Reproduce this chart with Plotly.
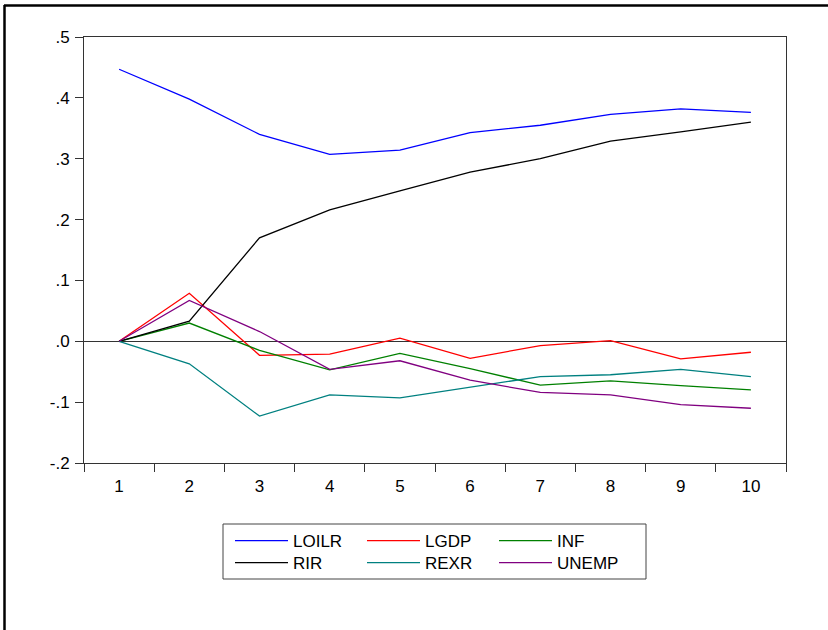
import plotly.graph_objects as go

periods = ["1", "2", "3", "4", "5", "6", "7", "8", "9", "10"]

loilr = [0.447, 0.398, 0.340, 0.307, 0.314, 0.343, 0.355, 0.373, 0.382, 0.376]
rir = [0.000, 0.033, 0.170, 0.216, 0.247, 0.278, 0.300, 0.329, 0.344, 0.360]
lgdp = [0.000, 0.079, -0.023, -0.021, 0.005, -0.028, -0.007, 0.001, -0.029, -0.018]
inf = [0.000, 0.030, -0.015, -0.047, -0.020, -0.045, -0.072, -0.065, -0.073, -0.080]
rexr = [0.000, -0.037, -0.123, -0.088, -0.093, -0.076, -0.058, -0.055, -0.046, -0.058]
unemp = [0.000, 0.067, 0.016, -0.046, -0.032, -0.064, -0.084, -0.088, -0.104, -0.110]

ytick_vals = [0.5, 0.4, 0.3, 0.2, 0.1, 0.0, -0.1, -0.2]
ytick_text = [".5", ".4", ".3", ".2", ".1", ".0", "-.1", "-.2"]

series = [
    ("LOILR", loilr, "#0000FF", "legend"),
    ("LGDP", lgdp, "#FF0000", "legend"),
    ("INF", inf, "#008000", "legend"),
    ("RIR", rir, "#000000", "legend2"),
    ("REXR", rexr, "#008080", "legend2"),
    ("UNEMP", unemp, "#800080", "legend2"),
]

FONT = "Liberation Sans, Arial, sans-serif"

fig = go.Figure()
for name, vals, color, leg in series:
    fig.add_trace(go.Scatter(
        x=periods, y=vals, mode="lines", name=name,
        line=dict(color=color, width=1.3),
        legend=leg, showlegend=True,
    ))

W, H = 828, 630
L, R, T, B = 84, 42, 37, 167
pw, ph = W - L - R, H - T - B

def px(x):
    return (x - L) / pw

def py(y):
    return (H - B - y) / ph

legend_common = dict(
    orientation="h", xanchor="left", yanchor="middle",
    entrywidth=64, entrywidthmode="pixels", itemwidth=53,
    font=dict(family=FONT, size=17, color="#000000"),
    bgcolor="rgba(0,0,0,0)", borderwidth=0, tracegroupgap=0,
    itemclick=False, itemdoubleclick=False,
)

fig.update_layout(
    width=W, height=H,
    margin=dict(l=L, r=R, t=T, b=B, autoexpand=False),
    paper_bgcolor="#FFFFFF", plot_bgcolor="#FFFFFF",
    font=dict(family=FONT, size=17, color="#000000"),
    legend=dict(x=px(230), y=py(541), **legend_common),
    legend2=dict(x=px(230), y=py(563), **legend_common),
    xaxis=dict(
        type="category", range=[-0.5, 9.5],
        tickson="boundaries", ticks="outside", ticklen=8, tickcolor="#333333",
        showline=True, linecolor="#333333", linewidth=1, mirror=True,
        showgrid=False, zeroline=False,
        tickfont=dict(family=FONT, size=17, color="#000000"),
        ticklabelstandoff=8,
    ),
    yaxis=dict(
        range=[-0.2, 0.5], tickvals=ytick_vals, ticktext=ytick_text,
        ticks="outside", ticklen=8, tickcolor="#333333",
        showline=True, linecolor="#333333", linewidth=1, mirror=True,
        showgrid=False,
        zeroline=True, zerolinecolor="#333333", zerolinewidth=1,
        tickfont=dict(family=FONT, size=17, color="#000000"),
        ticklabelstandoff=2,
    ),
    shapes=[
        dict(type="rect", xref="paper", yref="paper",
             x0=px(223), x1=px(646), y0=py(579), y1=py(524),
             line=dict(color="#444444", width=1)),
        dict(type="line", xref="paper", yref="paper",
             x0=px(4), x1=px(828), y0=py(5.5), y1=py(5.5),
             line=dict(color="#000000", width=2.5)),
        dict(type="line", xref="paper", yref="paper",
             x0=px(4.5), x1=px(4.5), y0=py(5), y1=py(630),
             line=dict(color="#000000", width=2.5)),
    ],
)

fig.write_html(
    "out.html",
    config={"displayModeBar": False},
    post_script="document.body.style.margin='0px';document.body.style.overflow='hidden';",
)
